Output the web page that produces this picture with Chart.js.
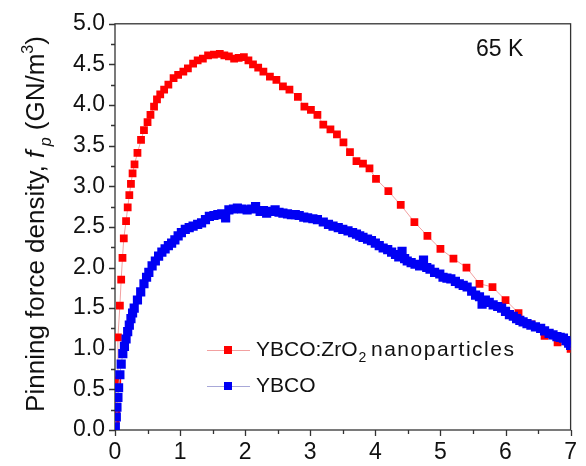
<!DOCTYPE html>
<html>
<head>
<meta charset="utf-8">
<script src="https://cdn.jsdelivr.net/npm/chart.js@4.4.0/dist/chart.umd.min.js"></script>
<style>
  html, body { margin: 0; padding: 0; background: #fff; }
  #wrap { width: 586px; height: 466px; }
</style>
</head>
<body>
<div id="wrap"><canvas id="fp"></canvas></div>
<script>
// YBCO:ZrO2 nanoparticles (red)
const xRed = [0.01, 0.02, 0.03, 0.035, 0.045, 0.075, 0.095, 0.115, 0.135, 0.17,
  0.195, 0.22, 0.245, 0.27, 0.3, 0.345, 0.4, 0.445, 0.5, 0.545,
  0.6, 0.645, 0.695, 0.755, 0.82, 0.9, 0.97, 1.05, 1.12, 1.2,
  1.27, 1.35, 1.43, 1.52, 1.61, 1.68, 1.75, 1.83, 1.9, 1.98,
  2.05, 2.12, 2.2, 2.28, 2.38, 2.48, 2.58, 2.68, 2.81, 2.91,
  3.01, 3.11, 3.2, 3.31, 3.41, 3.51, 3.61, 3.71, 3.81, 3.91,
  4.01, 4.2, 4.39, 4.6, 4.8, 5.0, 5.2, 5.4, 5.6, 5.8,
  6.0, 6.2, 6.4, 6.6, 6.8, 7.0];
const yRed = [0.12, 0.25, 0.39, 0.61, 1.14, 1.53, 1.85, 2.12, 2.36, 2.57,
  2.74, 2.89, 3.03, 3.16, 3.27, 3.41, 3.57, 3.69, 3.79, 3.88,
  3.98, 4.07, 4.13, 4.19, 4.25, 4.33, 4.37, 4.41, 4.45, 4.51,
  4.55, 4.57, 4.61, 4.62, 4.63, 4.61, 4.6, 4.57, 4.58, 4.59,
  4.55, 4.5, 4.46, 4.41, 4.35, 4.31, 4.23, 4.19, 4.1, 3.98,
  3.94, 3.88, 3.76, 3.7, 3.64, 3.54, 3.42, 3.31, 3.28, 3.22,
  3.09, 2.94, 2.77, 2.56, 2.39, 2.23, 2.11, 2.0, 1.8, 1.76,
  1.6, 1.44, 1.3, 1.16, 1.08, 1.0];

// YBCO (blue)
const xBlue = [0.005, 0.02, 0.03, 0.045, 0.055, 0.075, 0.095, 0.12, 0.145, 0.17,
  0.195, 0.22, 0.245, 0.27, 0.295, 0.345, 0.395, 0.445, 0.485, 0.52,
  0.57, 0.62, 0.67, 0.72, 0.77, 0.82, 0.87, 0.92, 0.97, 1.02,
  1.08, 1.14, 1.2, 1.27, 1.33, 1.39, 1.45, 1.52, 1.58, 1.64,
  1.7, 1.75, 1.82, 1.88, 1.95, 2.03, 2.1, 2.16, 2.23, 2.28,
  2.33, 2.4, 2.46, 2.52, 2.58, 2.65, 2.71, 2.77, 2.83, 2.9,
  2.96, 3.04, 3.11, 3.2, 3.28, 3.35, 3.43, 3.5, 3.58, 3.65,
  3.71, 3.76, 3.81, 3.88, 3.94, 4.0, 4.06, 4.12, 4.19, 4.25,
  4.31, 4.36, 4.41, 4.45, 4.49, 4.55, 4.61, 4.68, 4.74, 4.79,
  4.84, 4.91, 4.99, 5.04, 5.1, 5.16, 5.23, 5.29, 5.35, 5.41,
  5.48, 5.54, 5.6, 5.64, 5.69, 5.75, 5.81, 5.88, 5.94, 6.0,
  6.06, 6.12, 6.17, 6.22, 6.27, 6.33, 6.39, 6.46, 6.54, 6.6,
  6.67, 6.73, 6.79, 6.84, 6.89, 6.93, 6.97, 7.0];
const yBlue = [0.04, 0.16, 0.28, 0.4, 0.52, 0.68, 0.81, 0.94, 1.03, 1.12,
  1.21, 1.29, 1.37, 1.44, 1.5, 1.6, 1.7, 1.8, 1.88, 1.94,
  2.02, 2.08, 2.14, 2.19, 2.23, 2.27, 2.3, 2.34, 2.39, 2.43,
  2.47, 2.49, 2.51, 2.53, 2.55, 2.59, 2.63, 2.64, 2.65, 2.66,
  2.61, 2.71, 2.72, 2.73, 2.72, 2.71, 2.72, 2.75, 2.69, 2.7,
  2.67, 2.69, 2.71, 2.68, 2.67, 2.66, 2.65, 2.65, 2.64, 2.62,
  2.61, 2.6, 2.59, 2.56, 2.53, 2.51, 2.49, 2.47, 2.45, 2.43,
  2.41, 2.39, 2.37, 2.35, 2.33, 2.3, 2.27, 2.24, 2.22, 2.19,
  2.16, 2.13, 2.2, 2.11, 2.08, 2.06, 2.04, 2.02, 2.09, 2.0,
  1.98, 1.94, 1.92, 1.88, 1.87, 1.86, 1.83, 1.8, 1.78, 1.76,
  1.71, 1.66, 1.64, 1.55, 1.6, 1.57, 1.54, 1.52, 1.5, 1.46,
  1.42, 1.4, 1.37, 1.35, 1.33, 1.31, 1.29, 1.27, 1.25, 1.22,
  1.19, 1.17, 1.15, 1.14, 1.13, 1.1, 1.07, 1.04];

const xTicks = [0, 1, 2, 3, 4, 5, 6, 7];
const yTicks = [0, 0.5, 1, 1.5, 2, 2.5, 3, 3.5, 4, 4.5, 5];
const legendLabels = ['YBCO:ZrO', 'YBCO'];
const tempLabel = '65 K';

const RED = '#ff0000';
const BLUE = '#0000f4';
const FONT = "'Liberation Sans', Arial, sans-serif";

function pairs(xs, ys) {
  return xs.map((x, i) => ({ x: x, y: ys[i] }));
}

// frame, tick marks (major + minor), legend, annotation and y title
const decor = {
  id: 'decor',
  beforeDatasetsDraw(chart) {
    const { ctx, chartArea: a, scales: { x, y } } = chart;
    ctx.save();
    ctx.strokeStyle = '#333';
    ctx.lineWidth = 1.3;
    ctx.strokeRect(a.left, a.top, a.right - a.left, a.bottom - a.top);
    ctx.beginPath();
    for (let v = 0; v <= 7.001; v += 0.5) {
      const px = Math.round(x.getPixelForValue(v)) + 0.5;
      const len = Math.abs(v - Math.round(v)) < 0.01 ? 6 : 4;
      ctx.moveTo(px, a.bottom);
      ctx.lineTo(px, a.bottom + len);
    }
    for (let v = 0; v <= 5.001; v += 0.25) {
      const py = Math.round(y.getPixelForValue(v)) + 0.5;
      const len = Math.abs(v * 2 - Math.round(v * 2)) < 0.01 ? 6 : 4;
      ctx.moveTo(a.left, py);
      ctx.lineTo(a.left - len, py);
    }
    ctx.stroke();
    ctx.restore();
  },
  afterDraw(chart) {
    const { ctx } = chart;
    ctx.save();
    ctx.fillStyle = '#111';
    ctx.textBaseline = 'middle';

    // 65 K
    ctx.font = '23px ' + FONT;
    ctx.fillText(tempLabel, 476, 50);

    // legend
    const rows = [
      { color: RED, line: '#f2a0a0', y: 350 },
      { color: BLUE, line: '#a8a8d8', y: 386 }
    ];
    rows.forEach((r, i) => {
      ctx.strokeStyle = r.line;
      ctx.lineWidth = 1;
      ctx.beginPath();
      ctx.moveTo(207, r.y + 0.5);
      ctx.lineTo(250, r.y + 0.5);
      ctx.stroke();
      ctx.fillStyle = r.color;
      ctx.fillRect(224, r.y - 4, 8, 8);
      ctx.fillStyle = '#111';
      ctx.font = '21px ' + FONT;
      ctx.fillText(legendLabels[i], 256, r.y);
      if (i === 0) {
        const w = ctx.measureText(legendLabels[i]).width;
        ctx.font = '14px ' + FONT;
        ctx.fillText('2', 256 + w + 1, r.y + 8);
        ctx.font = '21px ' + FONT;
        ctx.letterSpacing = '1.5px';
        ctx.fillText('nanoparticles', 371, r.y);
        ctx.letterSpacing = '0px';
      }
    });

    // y axis title, rotated
    const parts = [
      { t: 'Pinning force density, ', f: '26px ', dy: 0 },
      { t: 'f', f: 'italic 26px ', dy: 0 },
      { t: ' p', f: 'italic 16px ', dy: 7 },
      { t: ' (GN/m', f: '26px ', dy: 0 },
      { t: '3', f: '16px ', dy: -11 },
      { t: ')', f: '26px ', dy: 0 }
    ];
    let total = 0;
    parts.forEach(p => { ctx.font = p.f + FONT; p.w = ctx.measureText(p.t).width; total += p.w; });
    ctx.translate(35, 224);
    ctx.rotate(-Math.PI / 2);
    ctx.textBaseline = 'alphabetic';
    let cx = -total / 2;
    parts.forEach(p => {
      ctx.font = p.f + FONT;
      ctx.fillText(p.t, cx, 9 + p.dy);
      cx += p.w;
    });
    ctx.restore();
  }
};

new Chart(document.getElementById('fp'), {
  type: 'scatter',
  data: {
    datasets: [
      {
        label: 'YBCO:ZrO2 nanoparticles',
        data: pairs(xRed, yRed),
        showLine: true,
        borderColor: '#f2a0a0',
        borderWidth: 1,
        backgroundColor: RED,
        pointStyle: 'rect',
        pointRadius: 5.5,
        pointBorderWidth: 0,
        pointBackgroundColor: RED,
        order: 1
      },
      {
        label: 'YBCO',
        data: pairs(xBlue, yBlue),
        showLine: true,
        borderColor: '#a8a8d8',
        borderWidth: 1,
        backgroundColor: BLUE,
        pointStyle: 'rect',
        pointRadius: 6.5,
        pointBorderWidth: 0,
        pointBackgroundColor: BLUE,
        order: 0
      }
    ]
  },
  options: {
    responsive: true,
    maintainAspectRatio: false,
    animation: false,
    layout: { padding: { top: 18, right: 6, bottom: 0, left: 0 } },
    plugins: {
      legend: { display: false },
      tooltip: { enabled: false }
    },
    scales: {
      x: {
        type: 'linear',
        min: 0,
        max: 7,
        grid: { display: false, drawTicks: false },
        border: { display: false },
        afterFit: s => { s.height = 36; },
        afterBuildTicks: s => { s.ticks = xTicks.map(v => ({ value: v })); },
        ticks: {
          padding: 9,
          color: '#111',
          font: { family: FONT, size: 23 },
          callback: v => String(v)
        }
      },
      y: {
        min: 0,
        max: 5,
        grid: { display: false, drawTicks: false },
        border: { display: false },
        afterFit: s => { s.width = 115; },
        afterBuildTicks: s => { s.ticks = yTicks.map(v => ({ value: v })); },
        ticks: {
          padding: 10,
          color: '#111',
          font: { family: FONT, size: 23 },
          callback: v => Number(v).toFixed(1)
        }
      }
    }
  },
  plugins: [decor]
});
</script>
</body>
</html>
